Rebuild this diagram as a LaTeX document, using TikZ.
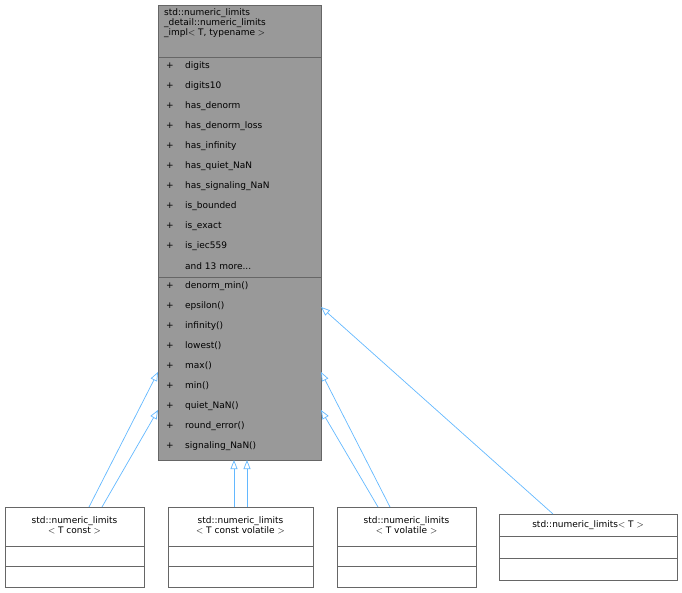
\documentclass[tikz,border=0pt]{standalone}
\usepackage{fontspec}
\setmainfont{DejaVu Sans}
\usetikzlibrary{arrows.meta}
\definecolor{edge}{HTML}{63B8FF}
\definecolor{bord}{HTML}{666666}
\definecolor{mainfill}{HTML}{999999}
\begin{document}
\begin{tikzpicture}[x=1pt,y=-1pt,
  txt/.style={inner sep=0pt,font=\fontsize{9}{10}\selectfont},
  row/.style={txt,anchor=west},
  box/.style={draw=bord,line width=0.8pt},
  inh/.style={draw=edge,line width=0.7pt,-{Triangle[open,length=9pt,width=7pt]}}]
\useasboundingbox (0,0) rectangle (682,593);
% main class
\node[box,fill=mainfill,minimum width=163pt,minimum height=455pt,inner sep=0pt] (M) at (239.5,232.5) {};
\draw[bord,line width=0.8pt] (158,57)--(321,57) (158,277)--(321,277);
\node[txt,align=left,anchor=north west] (Mt) at (164,8) {std::numeric\_limits\\\_detail::numeric\_limits\\\_impl$<$ T, typename $>$};
\foreach \n [count=\i] in {digits,digits10,has\_denorm,has\_denorm\_loss,has\_infinity,has\_quiet\_NaN,has\_signaling\_NaN,is\_bounded,is\_exact,is\_iec559}{
  \node[row] (pa\i) at (166,{66+(\i-1)*20}) {+};
  \node[row] (a\i) at (185,{66+(\i-1)*20}) {\n};
}
\node[row] (more) at (185,266) {and 13 more...};
\foreach \n [count=\i] in {denorm\_min(),epsilon(),infinity(),lowest(),max(),min(),quiet\_NaN(),round\_error(),signaling\_NaN()}{
  \node[row] (pm\i) at (166,{286+(\i-1)*20}) {+};
  \node[row] (m\i) at (185,{286+(\i-1)*20}) {\n};
}
% derived classes
\foreach \nm/\x/\w/\l in {A/5/139/{std::numeric\_limits\\$<$ T const $>$},B/168/145/{std::numeric\_limits\\$<$ T const volatile $>$},C/337/139/{std::numeric\_limits\\$<$ T volatile $>$}}{
  \node[box,fill=white,minimum width=\w pt,minimum height=80pt,inner sep=0pt,anchor=north west] (\nm) at (\x,507) {};
  \node[txt,align=center] (\nm t) at ({\x+\w/2},525.5) {\l};
  \draw[bord,line width=0.8pt] (\x,546)--({\x+\w},546) (\x,566)--({\x+\w},566);
}
\node[box,fill=white,minimum width=178pt,minimum height=66pt,inner sep=0pt,anchor=north west] (D) at (499,514) {};
\node[txt] (Dt) at (588,525) {std::numeric\_limits$<$ T $>$};
\draw[bord,line width=0.8pt] (499,536)--(677,536) (499,558)--(677,558);
% connectors
\coordinate (a1) at (89,507); \coordinate (a2) at (102,507);
\coordinate (ta1) at (158,372); \coordinate (ta2) at (158,410);
\coordinate (b1) at (234,507); \coordinate (b2) at (247,507);
\coordinate (tb1) at (234,460); \coordinate (tb2) at (247,460);
\coordinate (c1) at (378,507); \coordinate (c2) at (390,507);
\coordinate (tc1) at (321,410); \coordinate (tc2) at (321,372);
\coordinate (d1) at (553,514); \coordinate (td1) at (321,307);
\draw[inh] (a1)--(ta1);
\draw[inh] (a2)--(ta2);
\draw[inh] (b1)--(tb1);
\draw[inh] (b2)--(tb2);
\draw[inh] (c1)--(tc1);
\draw[inh] (c2)--(tc2);
\draw[inh] (d1)--(td1);
\end{tikzpicture}
\end{document}
